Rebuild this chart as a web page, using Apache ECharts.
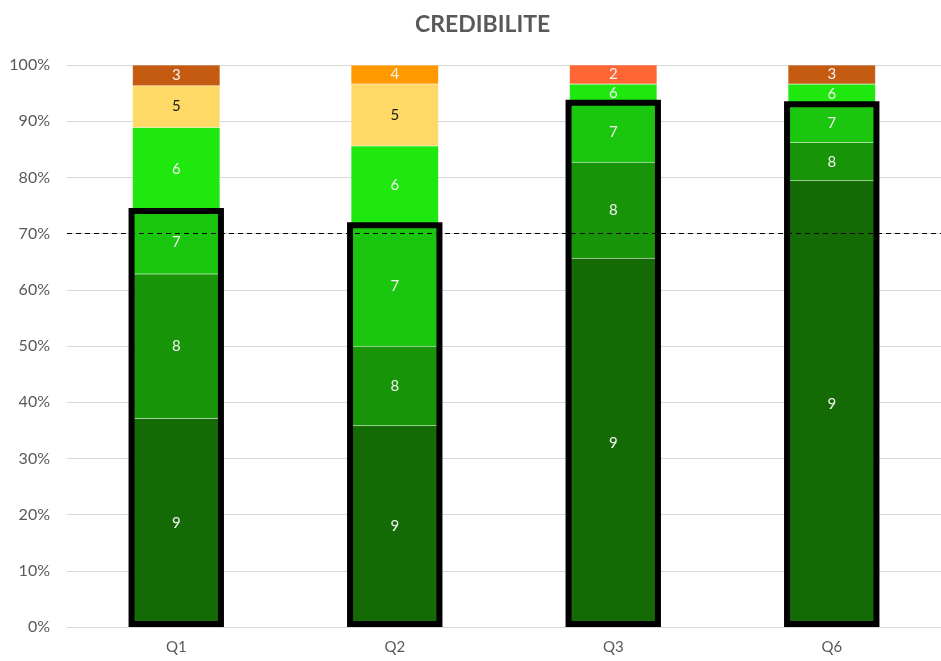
<!DOCTYPE html>
<html>
<head>
<meta charset="utf-8">
<script src="https://cdn.jsdelivr.net/npm/echarts@6/dist/echarts.min.js"></script>
<style>html,body{margin:0;padding:0;background:#fff}#c{width:941px;height:661px}</style>
</head>
<body>
<div id="c"></div>
<script>
const categories = ['Q1', 'Q2', 'Q3', 'Q6'];
const scoreNames = ['9', '8', '7', '6', '5', '4', '3', '2'];
const s9 = [37.1, 35.8, 65.6, 79.4];
const s8 = [25.7, 14.1, 17.1, 6.8];
const s7 = [11.2, 21.6, 10.6, 6.8];
const s6 = [14.9, 14.1, 3.3, 3.6];
const s5 = [7.4, 11.0, 0, 0];
const s4 = [0, 3.4, 0, 0];
const s3 = [3.7, 0, 0, 3.4];
const s2 = [0, 0, 3.4, 0];
const yTicks = [0, 10, 20, 30, 40, 50, 60, 70, 80, 90, 100];
const threshold = 70;

const seriesValues = [s9, s8, s7, s6, s5, s4, s3, s2];
const colors = ['#146a04', '#179407', '#1bc60f', '#1fe80f', '#ffd966', '#ff9900', '#c55a11', '#ff6633'];
const labelColors = ['#f2f2f2', '#f2f2f2', '#f2f2f2', '#f2f2f2', '#1a1a1a', '#f2f2f2', '#f2f2f2', '#f2f2f2'];

// top of the 9+8+7 block, for the outlined boxes
const boxTops = categories.map((c, i) => s9[i] + s8[i] + s7[i]);

const font = 'Lato, "Open Sans", sans-serif';
const chart = echarts.init(document.getElementById('c'));

const barSeries = scoreNames.map((name, k) => ({
  name: name,
  type: 'bar',
  stack: 'total',
  barWidth: '40%',
  data: seriesValues[k],
  itemStyle: { color: colors[k], borderColor: 'rgba(255,255,255,0.15)', borderWidth: 0.5 },
  label: {
    show: true,
    position: 'inside',
    color: labelColors[k],
    fontSize: 15,
    fontFamily: font,
    formatter: p => (p.value > 0 ? p.seriesName : '')
  }
}));

chart.setOption({
  animation: false,
  title: {
    text: 'CREDIBILITE',
    left: 410,
    top: 8,
    textStyle: { color: '#595959', fontSize: 23, fontWeight: 'bold', fontFamily: font }
  },
  grid: { left: 67, right: 0, top: 65, bottom: 34 },
  xAxis: {
    type: 'category',
    data: categories,
    axisTick: { show: false },
    axisLine: { lineStyle: { color: '#d9d9d9' } },
    axisLabel: { color: '#595959', fontSize: 15, fontFamily: font, margin: 13 }
  },
  yAxis: {
    type: 'value',
    min: yTicks[0],
    max: yTicks[yTicks.length - 1],
    interval: 10,
    axisLine: { show: false },
    axisTick: { show: false },
    splitLine: { lineStyle: { color: '#d9d9d9', width: 1 } },
    axisLabel: { color: '#595959', fontSize: 16, fontFamily: font, margin: 17, formatter: v => v + '%' }
  },
  series: barSeries.concat([{
    type: 'custom',
    name: 'box',
    z: 10,
    data: categories.map((c, i) => [i, boxTops[i]]),
    renderItem: function (params, api) {
      const top = api.coord([api.value(0), api.value(1)]);
      const bottom = api.coord([api.value(0), 0]);
      const w = api.size([1, 0])[0] * 0.4;
      return {
        type: 'rect',
        shape: { x: top[0] - w / 2 - 1, y: top[1], width: w + 2, height: bottom[1] - top[1] - 3 },
        style: { fill: 'none', stroke: '#000', lineWidth: 6 }
      };
    },
    markLine: {
      silent: true,
      symbol: 'none',
      label: { show: false },
      lineStyle: { color: '#000', type: [5, 4], width: 1.2 },
      data: [{ yAxis: threshold }]
    }
  }])
});
</script>
</body>
</html>
